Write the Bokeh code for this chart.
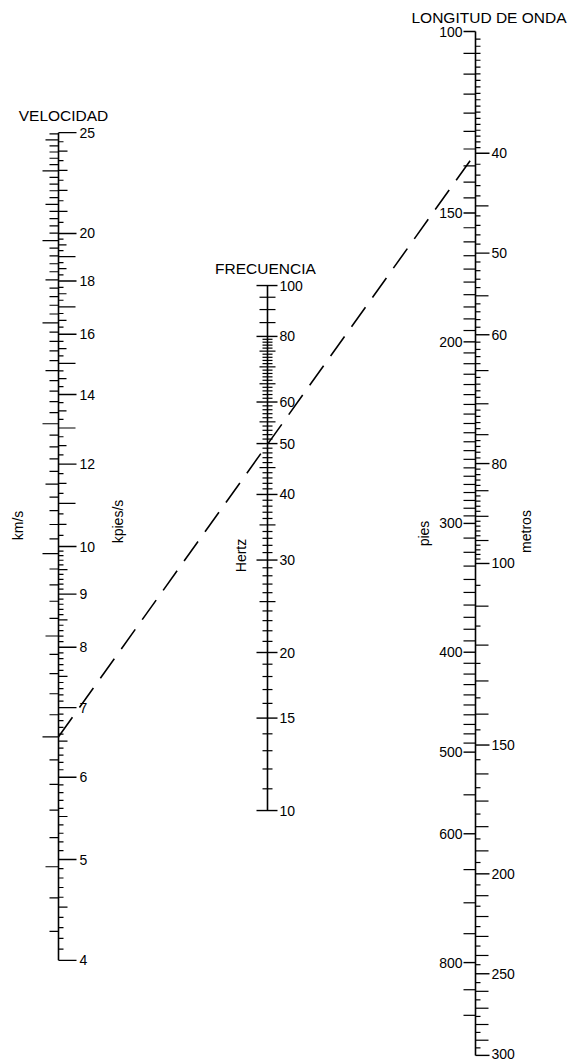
import numpy as np
from bokeh.plotting import figure
from bokeh.models import Range1d, LogScale, LinearScale
from bokeh.embed import file_html
from bokeh.resources import INLINE
from bokeh.core.properties import value

# ---------------- data (scale graduations of the nomogram) ----------------
vel_label_kfts = [4, 5, 6, 7, 8, 9, 10, 12, 14, 16, 18, 20, 25]          # kpies/s
freq_label_hz = [10, 15, 20, 30, 40, 50, 60, 80, 100]                    # Hertz
wl_label_ft = [100, 150, 200, 300, 400, 500, 600, 800]                   # pies
wl_label_m = [40, 50, 60, 80, 100, 150, 200, 250, 300]                   # metros

# example reading drawn as dashed line
example_vel_kms = 2.0
example_freq_hz = 50
example_wl_m = 40

FT_PER_M = 1 / 0.3048
KM_TO_KFT = 1 / 0.3048

FONT = value("Liberation Sans")

# ---------------- layout ----------------
W, H = 569, 1061
TOP, BOT = 0, H              # page y of frame top / bottom
XV, XF, XL = 58, 267, 475    # x of the three scales


def log_range(anchor_val, anchor_y, ppd, up=True):
    if up:
        end = anchor_val * 10 ** ((anchor_y - TOP) / ppd)
        start = anchor_val * 10 ** (-(BOT - anchor_y) / ppd)
    else:
        end = anchor_val * 10 ** (-(anchor_y - TOP) / ppd)
        start = anchor_val * 10 ** ((BOT - anchor_y) / ppd)
    return Range1d(start=start, end=end)


r_vel = log_range(10, 546, 1040, True)
r_kms = log_range(10 * 0.3048, 546, 1040, True)
r_freq = log_range(20, 652, 525, True)
r_ft = log_range(100, 31, 1031, False)
r_m = log_range(30.48, 31, 1031, False)
r_px = Range1d(start=BOT, end=TOP)

p = figure(width=W, height=H, output_backend="svg", toolbar_location=None,
           x_range=Range1d(0, W), y_range=r_vel, y_axis_type="log",
           x_axis_location=None, y_axis_location=None, min_border=0,
           background_fill_color="white", border_fill_color="white")
p.outline_line_color = None
p.grid.visible = False
p.extra_y_ranges = {"kms": r_kms, "freq": r_freq, "ft": r_ft, "m": r_m, "px": r_px}
p.extra_y_scales = {"kms": LogScale(), "freq": LogScale(), "ft": LogScale(),
                    "m": LogScale(), "px": LinearScale()}


def rng(a, b, step):
    return [round(float(v), 3) for v in np.arange(a, b + step / 2, step)]


def is_mult(v, m):
    return abs(v / m - round(v / m)) < 1e-6


def ticks(vals, x0s, x1s, rname, lw=1.2):
    p.segment(x0=x0s, y0=vals, x1=x1s, y1=vals, y_range_name=rname,
              line_color="black", line_width=lw)


def labels(xs, vals, texts, rname, align):
    p.text(x=xs, y=vals, text=texts, y_range_name=rname, text_font=FONT,
           text_font_size="14px", text_align=align, text_baseline="middle",
           text_color="black")


# ---------------- VELOCIDAD ----------------
p.segment(x0=[XV], y0=[min(vel_label_kfts)], x1=[XV], y1=[max(vel_label_kfts)],
          line_color="black", line_width=1.6)
# right side: kpies/s
vmin = []
vlen = []
for v in rng(4.1, 9.9, 0.1):
    if v in vel_label_kfts:
        continue
    vmin.append(v); vlen.append(9 if is_mult(v, 0.5) else 5)
for v in rng(10.25, 19.75, 0.25):
    if v in vel_label_kfts:
        continue
    vmin.append(v)
    vlen.append(17 if is_mult(v, 1) else (8 if is_mult(v, 0.5) else 5))
for v in rng(20.5, 24.5, 0.5):
    vmin.append(v); vlen.append(9 if is_mult(v, 1) else 5)
ticks(vmin, [XV] * len(vmin), [XV + l for l in vlen], "default")
ticks(vel_label_kfts, [XV] * len(vel_label_kfts), [XV + 18] * len(vel_label_kfts), "default", 1.4)
labels([XV + 21] * len(vel_label_kfts), vel_label_kfts, [str(v) for v in vel_label_kfts],
       "default", "left")
# left side: km/s
kv = rng(1.3, 7.6, 0.1)
klen = [16 if is_mult(v, 1) else (13 if is_mult(v, 0.5) else 9) for v in kv]
ticks(kv, [XV - l for l in klen], [XV] * len(kv), "kms")

# ---------------- FRECUENCIA ----------------
p.segment(x0=[XF], y0=[min(freq_label_hz)], x1=[XF], y1=[max(freq_label_hz)],
          y_range_name="freq", line_color="black", line_width=1.6)
fmin = [v for v in rng(11, 79, 1) if v not in freq_label_hz] + [85, 90, 95]
flen = [8 if is_mult(v, 5) else 5 for v in fmin]
ticks(fmin, [XF - l for l in flen], [XF + l for l in flen], "freq")
ticks(freq_label_hz, [XF - 11] * len(freq_label_hz), [XF + 10] * len(freq_label_hz), "freq", 1.4)
labels([XF + 12] * len(freq_label_hz), freq_label_hz, [str(v) for v in freq_label_hz],
       "freq", "left")

# ---------------- LONGITUD DE ONDA ----------------
p.segment(x0=[XL], y0=[min(wl_label_ft)], x1=[XL], y1=[max(wl_label_m) * FT_PER_M],
          y_range_name="ft", line_color="black", line_width=1.6)
# left: pies
ftmin = ([v for v in rng(105, 295, 5) if v not in wl_label_ft]
         + [v for v in rng(310, 490, 10) if v not in wl_label_ft]
         + [550] + [v for v in rng(650, 900, 50) if v not in wl_label_ft])
ticks(ftmin, [XL - 12] * len(ftmin), [XL] * len(ftmin), "ft")
ticks(wl_label_ft, [XL - 12] * len(wl_label_ft), [XL] * len(wl_label_ft), "ft", 1.4)
labels([XL - 13] * len(wl_label_ft), wl_label_ft, [str(v) for v in wl_label_ft], "ft", "right")
# right: metros
mmin, mlen = [], []
for v in rng(31, 39.5, 0.5):
    mmin.append(v); mlen.append(5)
for v in rng(41, 99, 1):
    if v in wl_label_m:
        continue
    mmin.append(v); mlen.append(13 if is_mult(v, 5) else 5)
for v in rng(105, 295, 5):
    if v in wl_label_m:
        continue
    mmin.append(v); mlen.append(13 if is_mult(v, 10) else 5)
ticks(mmin, [XL] * len(mmin), [XL + l for l in mlen], "m")
ticks(wl_label_m, [XL] * len(wl_label_m), [XL + 14] * len(wl_label_m), "m", 1.4)
m_lab_dy = [0] * (len(wl_label_m) - 1) + [-0.004]   # keep last label inside the page
labels([XL + 16] * len(wl_label_m), [v * (1 + d) for v, d in zip(wl_label_m, m_lab_dy)],
       [str(v) for v in wl_label_m], "m", "left")

# ---------------- example dashed line ----------------
def to_default(val, r):
    """map a value of range r to the equivalent value of the velocity range"""
    lo, hi = np.log10(r.start), np.log10(r.end)
    frac = (np.log10(val) - lo) / (hi - lo)
    vlo, vhi = np.log10(r_vel.start), np.log10(r_vel.end)
    return 10 ** (vlo + frac * (vhi - vlo))

line_y = [example_vel_kms * KM_TO_KFT, to_default(example_wl_m, r_m)]
p.line(x=[XV, XL], y=line_y, line_color="black", line_width=1.6, line_dash="24 12")

# ---------------- titles and unit names ----------------
titles = ["VELOCIDAD", "FRECUENCIA", "LONGITUD DE ONDA"]
p.text(x=[63, 265, 566], y=[115, 268, 17], text=titles, y_range_name="px",
       text_font=FONT, text_font_size="15.5px", text_align=["center", "center", "right"],
       text_baseline="middle", text_color="black")
units = ["km/s", "kpies/s", "Hertz", "pies", "metros"]
p.text(x=[17, 117, 240, 423, 525], y=[525, 521, 555, 533, 531], text=units,
       y_range_name="px", angle=np.pi / 2, text_font=FONT, text_font_size="14px",
       text_align="center", text_baseline="middle", text_color="black")

open("out.html", "w").write(file_html(p, INLINE))
